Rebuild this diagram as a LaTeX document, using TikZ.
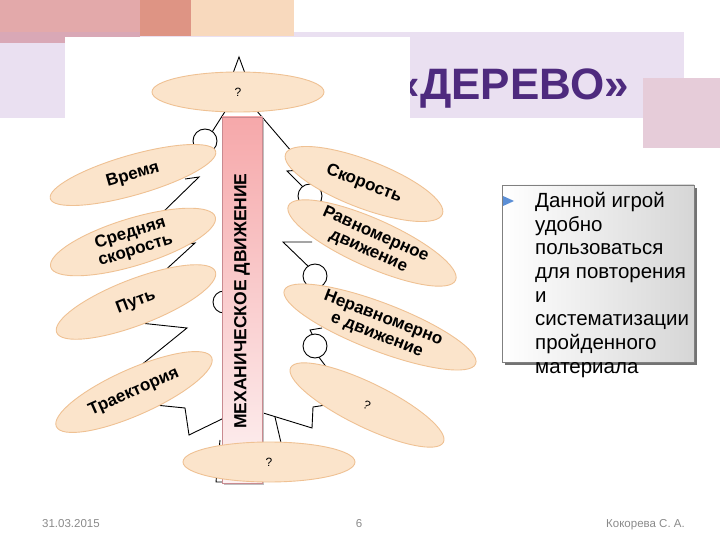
\documentclass[tikz,border=0pt]{standalone}
\usepackage{fontspec}
\setmainfont{Liberation Sans}
\usetikzlibrary{shapes.geometric}
\definecolor{pinkA}{HTML}{E3A9AA}
\definecolor{pinkBand}{HTML}{D9A8B6}
\definecolor{salmon}{HTML}{DE9484}
\definecolor{peach}{HTML}{F8D9BD}
\definecolor{lav}{HTML}{EAE0F1}
\definecolor{mauve}{HTML}{E6CCD9}
\definecolor{titlecol}{HTML}{4E2A7E}
\definecolor{leaffill}{HTML}{FBE4CB}
\definecolor{leafedge}{HTML}{EFC193}
\definecolor{trunktop}{HTML}{F6A8AA}
\definecolor{trunkbot}{HTML}{FDF2F2}
\definecolor{trunkedge}{HTML}{C98A90}
\definecolor{footgray}{HTML}{8A8A8A}
\definecolor{bulletblue}{HTML}{5B8FD6}
\tikzset{
  leaf/.style={ellipse, draw=leafedge, fill=leaffill, line width=0.9pt, inner sep=0pt,
    font=\bfseries\fontsize{17}{18}\selectfont, align=center},
  qleaf/.style={leaf, font=\fontsize{12}{12}\selectfont},
  treeline/.style={black, line width=0.9pt, line join=miter},
  ball/.style={treeline, fill=white},
  foot/.style={text=footgray, font=\fontsize{11.5}{12}\selectfont, inner sep=0pt}
}
\begin{document}
\begin{tikzpicture}[x=1pt,y=-1pt]
\useasboundingbox (0,0) rectangle (720,540);
% background decorations
\fill[lav] (0,32) rectangle (684,118);
\fill[pinkA] (0,0) rectangle (140,32);
\fill[pinkBand] (0,32) rectangle (140,43);
\fill[salmon] (140,0) rectangle (191,36);
\fill[peach] (191,0) rectangle (294,36);
\fill[mauve] (643,78) rectangle (720,148);
% title
\node[anchor=base east, inner sep=0pt, text=titlecol, font=\bfseries\fontsize{44}{44}\selectfont] (title) at (629,100) {«ДЕРЕВО»};
% white picture area
\fill[white] (65,37) rectangle (410,500);
% tree outline
\draw[treeline] (232,76) -- (239,57) -- (246,76);
\draw[treeline] (226,110) -- (212,132);
\draw[treeline] (256,110) -- (292,152);
\draw[treeline] (185,179) -- (199,177) -- (160,215);
\draw[treeline] (180,245) -- (195,243) -- (160,275);
\draw[treeline] (140,323) -- (187,328) -- (140,366);
\draw[treeline] (155,405) -- (185,408) -- (189,435) -- (224,418);
\draw[treeline] (220,440) -- (216,482) -- (226,482);
\draw[treeline] (302,170) -- (287,171) -- (306,190);
\draw[treeline] (312,242) -- (283,242) -- (310,268);
\draw[treeline] (322,328) -- (310,330) -- (313,336);
\draw[treeline] (318,356) -- (330,372);
\draw[treeline] (260,412) -- (312,428) -- (313,407) -- (326,405);
\draw[treeline] (275,417) -- (282,447);
\draw[ball] (205,141) circle[radius=12];
\draw[ball] (224,302) circle[radius=11];
\draw[ball] (310,196) circle[radius=12];
\draw[ball] (315,276) circle[radius=12];
\draw[ball] (315,346) circle[radius=12];
% trunk
\fill[black!25] (224,119) rectangle (264,485);
\shade[top color=trunktop, bottom color=trunkbot, draw=trunkedge, line width=0.8pt] (222,117) rectangle (262,483);
\node[rotate=90, font=\bfseries\fontsize{17.5}{17.5}\selectfont, inner sep=0pt] (trunk) at (242,301) {МЕХАНИЧЕСКОЕ ДВИЖЕНИЕ};
% leaves
\node[qleaf, minimum width=172pt, minimum height=40pt] (qtop) at (238,92) {?};
\node[qleaf, minimum width=172pt, minimum height=40pt] (qbot) at (269,462) {?};
\node[leaf, minimum width=172pt, minimum height=40pt, rotate=16] (time) at (133,175) {Время};
\node[leaf, minimum width=172pt, minimum height=42pt, rotate=17] (avg) at (133,242) {Средняя\\скорость};
\node[leaf, minimum width=170pt, minimum height=46pt, rotate=21] (path) at (136,302) {Путь};
\node[leaf, minimum width=170pt, minimum height=46pt, rotate=24] (traj) at (134,392) {Траектория};
\node[leaf, minimum width=168pt, minimum height=48pt, rotate=-21] (speed) at (364,184) {Скорость};
\node[leaf, minimum width=183pt, minimum height=48pt, rotate=-24] (uni) at (372,243) {Равномерное\\движение};
\node[leaf, minimum width=205pt, minimum height=48pt, rotate=-21] (nonuni) at (380,327) {Неравномерно\\е движение};
\node[qleaf, minimum width=170pt, minimum height=44pt, rotate=-26] (qright) at (367,405) {?};
% text box
\fill[black!55] (505,188) rectangle (697,365);
\shade[left color=white, right color=black!16, draw=black!50, line width=0.6pt] (502,185) rectangle (694,362);
\fill[bulletblue] (503,196) -- (514,201) -- (503,206) -- cycle;
\node[anchor=north west, align=left, inner sep=0pt, font=\fontsize{20.5}{23.7}\selectfont] (txt) at (535,192)
  {Данной игрой\\удобно\\пользоваться\\для повторения\\и\\систематизации\\пройденного\\материала};
% footer
\node[foot, anchor=base west] (date) at (42,527) {31.03.2015};
\node[foot, anchor=base] (page) at (359,527) {6};
\node[foot, anchor=base east] (author) at (685,527) {Кокорева С. А.};
\end{tikzpicture}
\end{document}
